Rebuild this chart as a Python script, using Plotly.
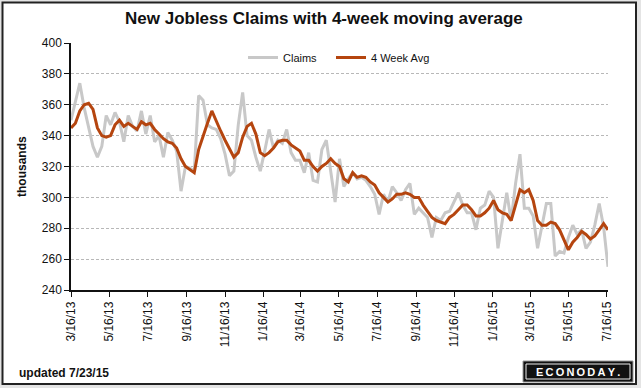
import pandas as pd
import plotly.graph_objects as go

# ---- data (thousands), weekly, week ending Saturday, starting 2013-03-16 ----
start_date = "2013-03-16"
claims = [350, 362, 374, 358, 346, 333, 326, 333, 353, 347,
          355, 349, 336, 353, 346, 343, 356, 341, 353, 336,
          340, 326, 342, 337, 330, 304, 320, 319, 317, 366,
          363, 347, 345, 344, 338, 328, 314, 317, 347, 368,
          340, 337, 326, 317, 330, 344, 332, 337, 335, 344,
          329, 324, 324, 316, 329, 311, 310, 331, 337, 318,
          297, 325, 307, 312, 316, 312, 313, 311, 307, 302,
          289, 302, 297, 307, 303, 298, 305, 309, 289, 293,
          290, 287, 274, 287, 285, 290, 291, 297, 303, 295,
          290, 290, 279, 293, 295, 304, 300, 267, 285, 303,
          285, 309, 328, 293, 293, 288, 267, 281, 296, 296,
          262, 265, 264, 274, 282, 276, 279, 267, 271, 282,
          296, 281, 255]
avg4 = [345, 348, 356, 360, 361, 357, 345, 340, 339, 340,
        347, 350, 346, 348, 346, 344, 349, 347, 348, 344,
        341, 338, 336, 335, 332, 325, 320, 318, 316, 331,
        340, 348, 356, 349, 343, 337, 331, 326, 329, 339,
        346, 348, 341, 329, 327, 329, 332, 336, 337, 337,
        334, 332, 330, 324, 324, 320, 317, 320, 322, 325,
        322, 320, 312, 310, 316, 313, 314, 313, 310, 308,
        303, 300, 297, 299, 302, 302, 303, 302, 300, 300,
        295, 291, 287, 285, 284, 283, 287, 289, 292, 295,
        295, 292, 288, 288, 290, 293, 298, 292, 290, 289,
        285, 295, 305, 303, 305, 298, 285, 282, 282, 284,
        283, 279, 272, 266, 271, 274, 278, 276, 273, 275,
        279, 283, 279]
tick_dates = ["2013-03-16", "2013-05-16", "2013-07-16", "2013-09-16", "2013-11-16",
              "2014-01-16", "2014-03-16", "2014-05-16", "2014-07-16", "2014-09-16",
              "2014-11-16", "2015-01-16", "2015-03-16", "2015-05-16", "2015-07-16"]
tick_labels = ["3/16/13", "5/16/13", "7/16/13", "9/16/13", "11/16/13",
               "1/16/14", "3/16/14", "5/16/14", "7/16/14", "9/16/14",
               "11/16/14", "1/16/15", "3/16/15", "5/16/15", "7/16/15"]
y_ticks = [240, 260, 280, 300, 320, 340, 360, 380, 400]

dates = pd.date_range(start_date, periods=len(claims), freq="7D")

W, H = 641, 388
L, R, T, B = 71, 33, 43, 98
PW, PH = W - L - R, H - T - B


def px(x):
    return (x - L) / PW


def py(y):
    return (H - B - y) / PH


FONT = "Liberation Sans, Arial, sans-serif"

fig = go.Figure()
fig.add_trace(go.Scatter(x=dates, y=claims, mode="lines", name="Claims",
                         line=dict(color="#c8c8c8", width=3), legend="legend"))
fig.add_trace(go.Scatter(x=dates, y=avg4, mode="lines", name="4 Week Avg",
                         line=dict(color="#b5450f", width=3), legend="legend2"))

shapes = [
    # outer white panel with dark frame
    dict(type="rect", xref="paper", yref="paper", x0=px(2.5), x1=px(636), y0=py(384), y1=py(2.5),
         fillcolor="white", line=dict(color="#222222", width=2), layer="below"),
    # logo box
    dict(type="rect", xref="paper", yref="paper", x0=px(523), x1=px(633), y0=py(382), y1=py(361),
         fillcolor="#111111", line=dict(color="#999999", width=1), layer="above"),
    dict(type="rect", xref="paper", yref="paper", x0=px(526), x1=px(630), y0=py(379), y1=py(364),
         fillcolor="rgba(0,0,0,0)", line=dict(color="#eeeeee", width=1), layer="above"),
]

annotations = [
    dict(text="<b>New Jobless Claims with 4-week moving average</b>", xref="paper", yref="paper",
         x=px(324), y=py(19), xanchor="center", yanchor="middle", showarrow=False,
         font=dict(family=FONT, size=17, color="#111111")),
    dict(text="<b>thousands</b>", xref="paper", yref="paper", x=px(22), y=py(167),
         xanchor="center", yanchor="middle", textangle=-90, showarrow=False,
         font=dict(family=FONT, size=12, color="#111111")),
    dict(text="<b>updated 7/23/15</b>", xref="paper", yref="paper", x=px(17), y=py(373),
         xanchor="left", yanchor="middle", showarrow=False,
         font=dict(family=FONT, size=12, color="#111111")),
    dict(text="<b>E\u2009C\u2009O\u2009N\u2009O\u2009D\u2009A\u2009Y\u2009.</b>", xref="paper", yref="paper",
         x=px(578), y=py(371.5), xanchor="center", yanchor="middle", showarrow=False,
         font=dict(family=FONT, size=11, color="white")),
]

legend_common = dict(orientation="h", xanchor="left", yanchor="top",
                     bgcolor="rgba(0,0,0,0)", font=dict(family=FONT, size=11, color="#111111"),
                     itemwidth=30)

fig.update_layout(
    width=W, height=H,
    margin=dict(l=L, r=R, t=T, b=B),
    paper_bgcolor="#e4e4e4",
    plot_bgcolor="white",
    font=dict(family=FONT, size=12, color="#111111"),
    showlegend=True,
    legend=dict(x=px(243), y=py(43), **legend_common),
    legend2=dict(x=px(331), y=py(43), **legend_common),
    shapes=shapes,
    annotations=annotations,
)

fig.update_xaxes(
    type="date",
    range=["2013-03-16", "2015-07-18"],
    tickvals=tick_dates, ticktext=tick_labels, tickangle=-90,
    showgrid=False, showline=True, linecolor="#111111", linewidth=1.5,
    ticks="outside", ticklen=5, tickcolor="#111111", tickwidth=1,
    tickfont=dict(family=FONT, size=12, color="#111111"),
    zeroline=False,
)
fig.update_yaxes(
    range=[240, 400], tickvals=y_ticks,
    showgrid=True, gridcolor="#b8b8b8", gridwidth=1, griddash="3px,2px",
    showline=True, linecolor="#111111", linewidth=1.5,
    ticks="outside", ticklen=5, tickcolor="#111111", tickwidth=1,
    tickfont=dict(family=FONT, size=12, color="#111111"),
    zeroline=False,
)

fig.write_html(
    "out.html",
    config={"displayModeBar": False},
    post_script="document.body.style.margin='0';document.body.style.background='#e4e4e4';",
)
